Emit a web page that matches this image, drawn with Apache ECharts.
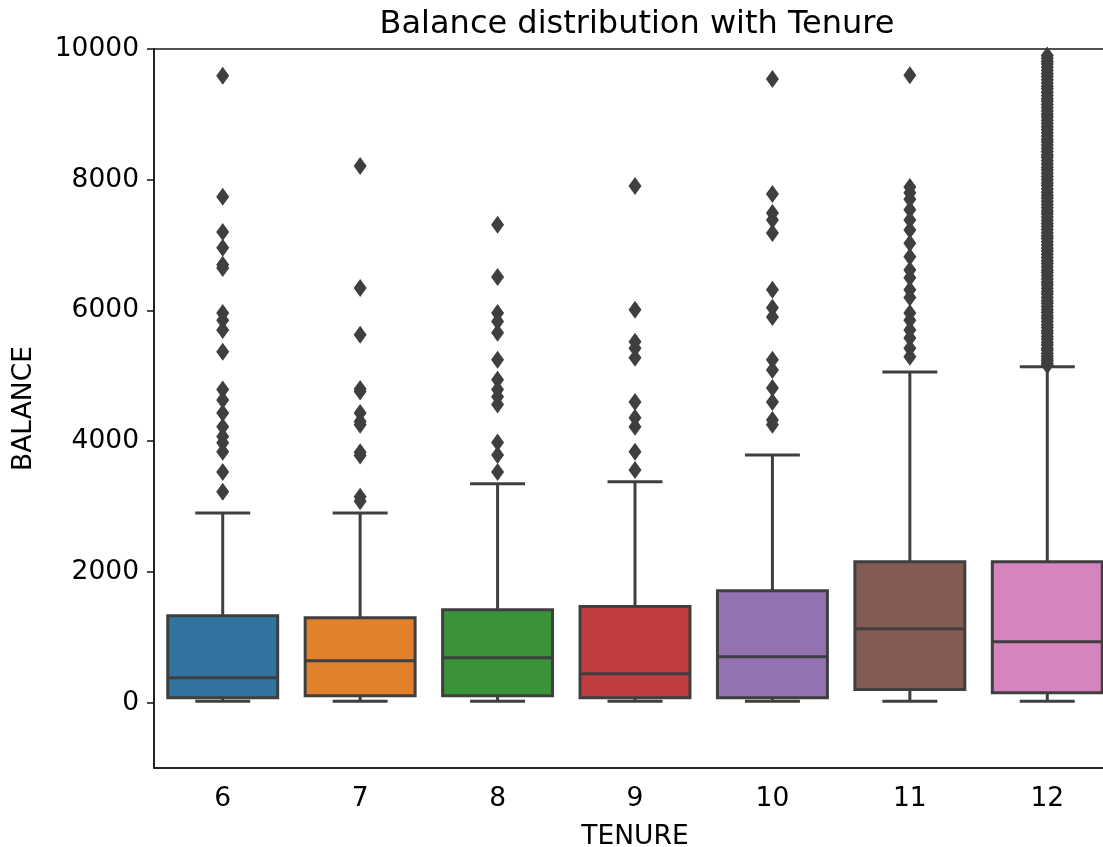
<!DOCTYPE html>
<html>
<head>
<meta charset="utf-8">
<script src="https://cdn.jsdelivr.net/npm/echarts@6/dist/echarts.min.js"></script>
<style>
html,body{margin:0;padding:0;background:#fff;}
#chart{width:1103px;height:847px;}
</style>
</head>
<body>
<div id="chart"></div>
<script>
// ---- data ----
const categories = ['6', '7', '8', '9', '10', '11', '12'];
const whiskerLow  = [20, 20, 20, 20, 20, 20, 20];
const q1          = [76, 107, 107, 76, 76, 200, 153];
const medians     = [382, 642, 688, 443, 703, 1130, 933];
const q3          = [1330, 1300, 1422, 1470, 1712, 2155, 2155];
const whiskerHigh = [2900, 2900, 3350, 3380, 3790, 5060, 5137];

const outliers6  = [9590, 7740, 7200, 6960, 6700, 6650, 5960, 5850, 5700, 5370, 4790, 4630, 4430, 4220, 4070, 3975, 3840, 3530, 3225];
const outliers7  = [8210, 6345, 5630, 4800, 4760, 4430, 4300, 4250, 3830, 3780, 3150, 3080];
const outliers8  = [7310, 6510, 5960, 5830, 5660, 5245, 4940, 4790, 4680, 4560, 3980, 3790, 3530];
const outliers9  = [7905, 6010, 5520, 5420, 5275, 4600, 4360, 4220, 3840, 3560];
const outliers10 = [9540, 7780, 7490, 7385, 7185, 6315, 6040, 5900, 5245, 5090, 4815, 4600, 4325, 4250];
const outliers11 = [9600, 7890, 7800, 7700, 7540, 7385, 7230, 7030, 6820, 6620, 6500, 6315, 6200, 5960, 5850, 5700, 5580, 5420, 5290];
const outliers12 = [5160, 5190, 5230, 5260, 5300, 5340, 5390, 5420, 5470, 5510, 5560, 5600, 5650, 5690, 5740, 5780,
  5830, 5880, 5920, 5970, 6010, 6060, 6110, 6150, 6200, 6250, 6290, 6340, 6390, 6430, 6480, 6530, 6580, 6620,
  6670, 6720, 6760, 6810, 6860, 6910, 6950, 7000, 7050, 7100, 7140, 7190, 7240, 7290, 7330, 7380, 7430, 7480,
  7520, 7570, 7620, 7670, 7720, 7760, 7810, 7860, 7910, 7950, 8000, 8050, 8100, 8150, 8190, 8240, 8290, 8340,
  8380, 8430, 8480, 8530, 8580, 8620, 8670, 8720, 8770, 8810, 8860, 8910, 8960, 9000, 9050, 9100, 9150, 9200,
  9240, 9290, 9340, 9390, 9430, 9480, 9530, 9580, 9620, 9670, 9720, 9770, 9810, 9860, 9900];
const outlierGroups = [outliers6, outliers7, outliers8, outliers9, outliers10, outliers11, outliers12];

const yTickValues = [0, 2000, 4000, 6000, 8000, 10000];

// ---- styling ----
const palette = ['#3274a1', '#e1812c', '#3a923a', '#c03d3e', '#9372b2', '#845b53', '#d684bd'];
const edge = '#3f3f3f';
const font = 'DejaVu Sans';
const axisColor = '#1a1a1a';

const boxData = categories.map((c, i) => [i, whiskerLow[i], q1[i], medians[i], q3[i], whiskerHigh[i]]);
const outlierData = [];
outlierGroups.forEach((arr, i) => arr.forEach(v => outlierData.push([i, v])));

function renderBox(params, api) {
  const idx = api.value(0);
  const lo = api.coord([idx, api.value(1)]);
  const b1 = api.coord([idx, api.value(2)]);
  const md = api.coord([idx, api.value(3)]);
  const b3 = api.coord([idx, api.value(4)]);
  const hi = api.coord([idx, api.value(5)]);
  const band = api.size([1, 0])[0];
  const half = band * 0.4;
  const cap = band * 0.2;
  const cx = lo[0];
  const ls = { stroke: edge, lineWidth: 3, fill: null };
  return {
    type: 'group',
    children: [
      { type: 'line', shape: { x1: cx, y1: lo[1], x2: cx, y2: b1[1] }, style: ls },
      { type: 'line', shape: { x1: cx, y1: b3[1], x2: cx, y2: hi[1] }, style: ls },
      { type: 'line', shape: { x1: cx - cap, y1: lo[1], x2: cx + cap, y2: lo[1] }, style: ls },
      { type: 'line', shape: { x1: cx - cap, y1: hi[1], x2: cx + cap, y2: hi[1] }, style: ls },
      { type: 'rect', shape: { x: cx - half, y: b3[1], width: 2 * half, height: b1[1] - b3[1] },
        style: { fill: palette[idx], stroke: edge, lineWidth: 3 } },
      { type: 'line', shape: { x1: cx - half, y1: md[1], x2: cx + half, y2: md[1] }, style: ls }
    ]
  };
}

const chart = echarts.init(document.getElementById('chart'), null, { renderer: 'canvas' });
chart.setOption({
  animation: false,
  backgroundColor: '#ffffff',
  title: {
    text: 'Balance distribution with Tenure',
    left: 632, top: 4, textAlign: 'center',
    textStyle: { fontFamily: font, fontSize: 32, fontWeight: 'normal', color: '#000' }
  },
  grid: {
    left: 154, width: 962, top: 49, bottom: 79,
    outerBoundsMode: 'none', containLabel: false,
    show: true, borderColor: axisColor, borderWidth: 1.6, backgroundColor: 'transparent'
  },
  xAxis: {
    type: 'category', data: categories,
    name: 'TENURE', nameLocation: 'middle', nameGap: 56,
    nameTextStyle: { fontFamily: font, fontSize: 26.5, color: '#000' },
    axisLine: { onZero: false, lineStyle: { color: axisColor, width: 1.6 } },
    axisTick: { alignWithLabel: true, length: 7, lineStyle: { color: axisColor, width: 1.6 } },
    axisLabel: { fontFamily: font, fontSize: 26.5, color: '#000', margin: 18 },
    splitLine: { show: false }
  },
  yAxis: {
    type: 'value', min: -1000, max: 10000,
    name: 'BALANCE', nameLocation: 'middle', nameRotate: 90, nameGap: 116,
    nameTextStyle: { fontFamily: font, fontSize: 26.5, color: '#000' },
    axisLine: { show: true, onZero: false, lineStyle: { color: axisColor, width: 1.6 } },
    axisTick: { show: true, length: 7, customValues: yTickValues, lineStyle: { color: axisColor, width: 1.6 } },
    axisLabel: { fontFamily: font, fontSize: 26.5, color: '#000', margin: 15, customValues: yTickValues,
      formatter: v => String(v) },
    splitLine: { show: false }
  },
  series: [
    { type: 'custom', renderItem: renderBox, data: boxData, encode: { x: 0, y: [1, 2, 3, 4, 5] }, z: 2 },
    { type: 'scatter', data: outlierData, symbol: 'diamond', symbolSize: [13, 18], clip: true,
      itemStyle: { color: edge, opacity: 1 }, z: 3 }
  ]
});
</script>
</body>
</html>
